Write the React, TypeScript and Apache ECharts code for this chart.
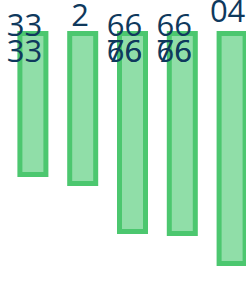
import React, { useEffect, useRef } from "react";
import * as echarts from "echarts";

const categories = ["A", "B", "C", "D", "E"];
const values = [146, 155, 203, 205, 235];
const mainLabels = ["33\n33", "2", "66\n66", "66\n66", "04"];
const overlayLabels = ["", "", "76", "76", ""];
const labelDx = [7, 13, 7.5, 7.5, 11];
const labelDy = [-20, -30, -20, -20, -34];

export default function App() {
  const ref = useRef<HTMLDivElement>(null);
  useEffect(() => {
    if (!ref.current) return;
    const chart = echarts.init(ref.current, null, { renderer: "svg" });
    const labelBase = {
      show: true,
      color: "#0f395d",
      fontSize: 31,
      fontWeight: 500,
      fontFamily: "Open Sans",
      lineHeight: 26,
      align: "center",
      verticalAlign: "top",
    };
    chart.setOption({
      animation: false,
      grid: { left: 8, right: 0, top: 31, bottom: 15 },
      xAxis: {
        type: "category",
        data: categories,
        show: false,
      },
      yAxis: {
        type: "value",
        inverse: true,
        min: 0,
        max: 250,
        show: false,
      },
      series: [
        {
          type: "bar",
          barWidth: 31,
          barGap: "-100%",
          z: 2,
          itemStyle: {
            color: "#90dea8",
            borderColor: "#4cc76f",
            borderWidth: 5,
          },
          data: values.map((v, i) => ({
            value: v,
            label: { ...labelBase, formatter: mainLabels[i], position: [labelDx[i], labelDy[i]] },
          })),
        },
        {
          type: "bar",
          barWidth: 31,
          barGap: "-100%",
          z: 3,
          itemStyle: { color: "transparent", borderColor: "transparent", borderWidth: 5 },
          data: values.map((v, i) => ({
            value: v,
            label: {
              ...labelBase,
              show: overlayLabels[i] !== "",
              formatter: overlayLabels[i],
              position: [labelDx[i], labelDy[i] + 26],
            },
          })),
        },
      ],
    });
    return () => chart.dispose();
  }, []);
  return (
    <div
      style={{
        position: "fixed",
        left: 0,
        top: 0,
        width: 246,
        height: 296,
        overflow: "hidden",
        background: "#fff",
      }}
    >
      <div ref={ref} style={{ width: 257, height: 296 }} />
    </div>
  );
}
